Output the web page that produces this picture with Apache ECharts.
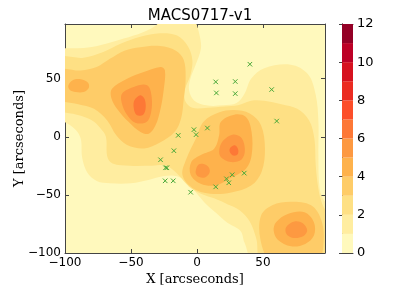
<!DOCTYPE html>
<html><head><meta charset="utf-8">
<script src="https://cdn.jsdelivr.net/npm/echarts@6/dist/echarts.min.js"></script>
<style>html,body{margin:0;padding:0;background:#fff}#c{width:399px;height:299px}</style>
</head><body><div id="c"></div>
<script>
// ---- data (arcseconds) ----
const xTicks = [-100, -50, 0, 50];
const yTicks = [-100, -50, 0, 50];
const cbTicks = [0, 2, 4, 6, 8, 10, 12];
const levels = [0,1,2,3,4,5,6,7,8,9,10,11,12];
const levelColors = ['#fff9bd','#ffeda0','#fee084','#fecc68','#feb24c','#fd9941','#fd7836','#fc4e2a','#eb2b21','#d6111f','#bd0026','#940026'];

// contour outlines (region where value >= level)
const level1 = [[-106,14],[-106,76],[-101,76],[-81,77],[-63,82],[-48,87],[-35,93],[-28,99],[-24,106],[-4,106],[-1,99],[2,87],[3,76],[-1,62],[-5,50],[-6,40],[-2,31],[7,27],[20,27],[30,29],[36,37],[41,50],[51,59],[71,62],[84,54],[90,36],[92,13],[92,-16],[93,-45],[97,-56],[102,-59],[106,-60],[106,-106],[43,-106],[36,-91],[33,-81],[23,-74],[15,-66],[7,-58],[0,-49],[-8,-39],[-15,-34],[-26,-34],[-36,-37],[-50,-40],[-66,-40],[-76,-38],[-83,-31],[-87,-18],[-88,-2],[-92,6],[-101,13]];
const level2 = [[-106,67],[-86,68],[-71,73],[-58,80],[-43,86],[-28,89],[-15,87],[-7,78],[-3.5,66],[-5,53],[-9,41],[-9,31],[-3.5,25],[8,25],[21,26],[31,27],[41,31],[51,31],[64,28],[76,24],[85,14],[89,-2],[90,-25],[92,-45],[95,-58],[99,-65],[106,-66],[106,-106],[49,-106],[45,-88],[40,-73],[32,-63],[23,-58],[13,-53],[3,-49],[-6,-43],[-14,-33],[-23,-25],[-34,-25],[-51,-25],[-64,-23],[-68,-17],[-69,0],[-73,7],[-78,13],[-88,18],[-101,21],[-106,21]];
const level3a = [[-106,57],[-88,57],[-76,60],[-66,67],[-55,74],[-43,77],[-28,78],[-16,74],[-10,66],[-8.6,50],[-10,33],[-12,16],[-17,4],[-28,-5],[-40,-10],[-53,-7],[-61,1],[-68,14],[-78,24],[-90,28],[-101,30],[-106,30]];
const level3b = [[5,13],[17,21],[28,23],[40,20],[48.5,10],[51.5,-10],[49,-30],[41,-42],[26,-48],[10,-49],[-3.5,-44],[-11,-33],[-8,-19],[-1,-2]];
const level3c = [[48.5,-68],[57,-59],[71,-56],[86.5,-59],[94,-71],[96,-88],[92,-106],[71,-106],[55,-106],[48,-88]];
const level4a = [[-64.4,41.4],[-53,50],[-40.3,55.8],[-27.6,60.1],[-24.3,57.2],[-25.1,41.4],[-27.6,24.2],[-31.4,9.8],[-36.5,2.6],[-42.8,4.1],[-51.7,12.7],[-60.6,24.2],[-64.9,33.4]];
const level4b = [[-97.5,44],[-94.5,48.5],[-88,49.5],[-82.5,46.5],[-82,42],[-86,38.5],[-92,38.5],[-96.5,40.5]];
const level4c = [[18,12.7],[28.2,19],[37.1,17],[41.4,4.1],[41.4,-16],[37.1,-27.6],[24.4,-36.2],[14.2,-41.9],[2.8,-40.5],[-4.8,-32.7],[-4.3,-21.8],[3.3,-15.5],[13,-10.3],[16.8,1.2]];
const level4d = [[59.9,-73.5],[68.8,-66.4],[81.5,-64.9],[88.6,-73.5],[88.6,-85],[82,-92.2],[71.3,-94.2],[61.2,-88.5],[58.1,-80.7]];
const level5a = [[-56.8,37.1],[-47.9,42.9],[-37.8,44.3],[-34.5,35.7],[-34.7,21.3],[-38.3,12.7],[-46.7,12.1],[-53,19],[-56.8,28.5]];
const level5b = [[20.1,-3.1],[26.9,1.8],[33.8,-1.1],[36.3,-11.7],[33.8,-19.5],[25.6,-21.8],[18,-17.5],[17,-10.3]];
const level5c = [[-0.9,-29],[1,-24],[5,-23.5],[9,-26.5],[9.5,-31],[6,-35],[1.5,-34.5],[-0.7,-32]];
const level5d = [[67.5,-77.8],[73.8,-72.9],[80.2,-74.4],[83.5,-80.7],[80.4,-85.6],[72.8,-87],[67.8,-83.6]];
const level6a = [[-47.4,31.4],[-42.8,35.7],[-39.6,32.2],[-39,23.6],[-41.3,18.4],[-45.9,19],[-47.9,24.8]];
const level6b = [[25.1,-9.7],[28.7,-7.4],[31.2,-10.9],[30.7,-15.2],[27.2,-16.1],[24.9,-13.2]];

const contours = [
  {level:1, ring:level1},
  {level:2, ring:level2},
  {level:3, ring:level3a},{level:3, ring:level3b},{level:3, ring:level3c},
  {level:4, ring:level4a},{level:4, ring:level4b},{level:4, ring:level4c},{level:4, ring:level4d},
  {level:5, ring:level5a},{level:5, ring:level5b},{level:5, ring:level5c},{level:5, ring:level5d},
  {level:6, ring:level6a},{level:6, ring:level6b}
];

// galaxy positions (green crosses)
const galX = [40.1,14.2,29.0,14.7,29.0,56.6,60.4,-2.3,7.9,-14.2,-0.7,-17.5,-27.6,-23.8,-22.8,-24.1,-18.0,-4.8,14.2,22.4,24.1,26.7,35.8];
const galY = [62.4,47.2,47.5,37.7,37.1,40.6,13.5,6.1,7.5,1.2,1.8,-12.0,-19.8,-26.7,-26.7,-37.9,-37.9,-47.7,-43.1,-36.2,-39.6,-32.7,-31.3];

const xMin = -100, xMax = 97, yMin = -100, yMax = 97;

const chart = echarts.init(document.getElementById('c'), null, {renderer:'canvas'});
const minus = v => String(v).replace('-', '\u2212');
const axisCol = '#444';
const font = 'DejaVu Sans';

const option = {
  animation: false,
  backgroundColor: '#fff',
  title: {text: 'MACS0717-v1', left: 195, top: 4, textAlign: 'center',
    textStyle: {fontFamily: font, fontSize: 15, fontWeight: 'normal', color: '#000'}},
  grid: [
    {left: 65, top: 24, width: 260, height: 229, show: true, backgroundColor: levelColors[0], borderWidth: 0},
    {left: 342, top: 24, width: 11, height: 229}
  ],
  xAxis: [
    {gridIndex:0, type:'value', min:xMin, max:xMax, interval:50, position:'bottom',
     name:'X [arcseconds]', nameLocation:'middle', nameGap:20, nameMoveOverlap:false,
     nameTextStyle:{fontFamily:'DejaVu Serif', fontSize:13, color:'#000'},
     axisLine:{show:true, onZero:false, lineStyle:{color:axisCol}},
     axisTick:{inside:true, length:4, lineStyle:{color:axisCol}},
     axisLabel:{formatter:minus, fontFamily:font, fontSize:12, color:'#000', margin:4, showMaxLabel:false},
     splitLine:{show:false}},
    {gridIndex:0, type:'value', min:xMin, max:xMax, interval:50, position:'top',
     axisLine:{show:true, onZero:false, lineStyle:{color:axisCol}},
     axisTick:{inside:true, length:4, lineStyle:{color:axisCol}},
     axisLabel:{show:false}, splitLine:{show:false}},
    {gridIndex:1, type:'value', min:0, max:1, position:'bottom', show:true,
     axisLine:{show:true, onZero:false, lineStyle:{color:axisCol}}, axisTick:{show:false}, axisLabel:{show:false}, splitLine:{show:false}},
    {gridIndex:1, type:'value', min:0, max:1, position:'top', show:true,
     axisLine:{show:true, onZero:false, lineStyle:{color:axisCol}}, axisTick:{show:false}, axisLabel:{show:false}, splitLine:{show:false}}
  ],
  yAxis: [
    {gridIndex:0, type:'value', min:yMin, max:yMax, interval:50, position:'left',
     name:'Y [arcseconds]', nameLocation:'middle', nameGap:39, nameRotate:90, nameMoveOverlap:false,
     nameTextStyle:{fontFamily:'DejaVu Serif', fontSize:13, color:'#000'},
     axisLine:{show:true, onZero:false, lineStyle:{color:axisCol}},
     axisTick:{inside:true, length:4, lineStyle:{color:axisCol}},
     axisLabel:{formatter:minus, fontFamily:font, fontSize:12, color:'#000', margin:4, showMaxLabel:false},
     splitLine:{show:false}},
    {gridIndex:0, type:'value', min:yMin, max:yMax, interval:50, position:'right',
     axisLine:{show:true, onZero:false, lineStyle:{color:axisCol}},
     axisTick:{inside:true, length:4, lineStyle:{color:axisCol}},
     axisLabel:{show:false}, splitLine:{show:false}},
    {gridIndex:1, type:'value', min:0, max:12, interval:2, position:'right',
     axisLine:{show:true, lineStyle:{color:axisCol}},
     axisTick:{inside:true, length:3, lineStyle:{color:axisCol}},
     axisLabel:{fontFamily:font, fontSize:13, color:'#000', margin:4},
     splitLine:{show:false}},
    {gridIndex:1, type:'value', min:0, max:12, position:'left',
     axisLine:{show:true, lineStyle:{color:axisCol}}, axisTick:{show:false}, axisLabel:{show:false}, splitLine:{show:false}}
  ],
  series: [
    {type:'custom', xAxisIndex:0, yAxisIndex:0, clip:true, silent:true, z:1,
     data: contours.map(c => [c.ring[0][0], c.ring[0][1], c.level]),
     renderItem: (params, api) => {
       const c = contours[params.dataIndex];
       return {type:'polygon',
         shape:{points: c.ring.map(p => api.coord(p)), smooth: 0.35},
         style:{fill: levelColors[c.level], stroke: null}};
     }},
    {type:'scatter', xAxisIndex:0, yAxisIndex:0, silent:true, z:3,
     data: galX.map((x,i) => [x, galY[i]]),
     symbol:'path://M0,0L10,10M10,0L0,10', symbolSize:4.5,
     itemStyle:{color:'none', borderColor:'#48a838', borderWidth:1, opacity:1}},
    {type:'custom', xAxisIndex:2, yAxisIndex:2, silent:true, z:1,
     data: levels.slice(0,12).map(l => [0, l]),
     renderItem: (params, api) => {
       const l = levels[params.dataIndex];
       const p0 = api.coord([0, l]);
       const p1 = api.coord([1, l + 1]);
       return {type:'rect', shape:{x:p0[0], y:p1[1], width:p1[0]-p0[0], height:p0[1]-p1[1]},
         style:{fill: levelColors[params.dataIndex], stroke:null}};
     }}
  ]
};
chart.setOption(option);
</script></body></html>
